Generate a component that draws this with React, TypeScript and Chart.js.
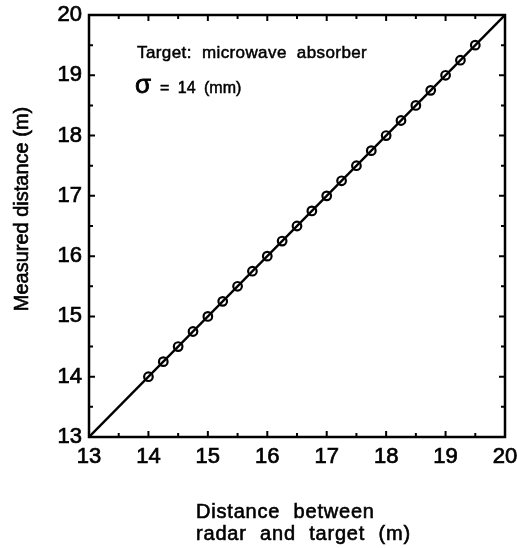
import React, { useEffect, useRef } from "react";
import { Chart, registerables } from "chart.js";

Chart.register(...registerables);

// Reference line y = x across the full range
const lineX = [13, 20];
const lineY = [13, 20];

// Set distance between radar and target (m)
const trueDistance = [
  14, 14.25, 14.5, 14.75, 15, 15.25, 15.5, 15.75, 16, 16.25, 16.5, 16.75,
  17, 17.25, 17.5, 17.75, 18, 18.25, 18.5, 18.75, 19, 19.25, 19.5,
];
// Distance measured by the radar (m)
const measuredDistance = [
  14, 14.25, 14.5, 14.75, 15, 15.25, 15.5, 15.75, 16, 16.25, 16.5, 16.75,
  17, 17.25, 17.5, 17.75, 18, 18.25, 18.5, 18.75, 19, 19.25, 19.5,
];

const majorTicks = [13, 14, 15, 16, 17, 18, 19, 20];
const minorTicks = [13.5, 14.5, 15.5, 16.5, 17.5, 18.5, 19.5];

const FONT = "'Liberation Sans', Arial, Helvetica, sans-serif";

// fill plus a thin stroke so the lettering has the heavier printed weight
function heavyText(ctx: CanvasRenderingContext2D, s: string, x: number, y: number, w = 0.6) {
  ctx.fillText(s, x, y);
  ctx.lineWidth = w;
  ctx.strokeText(s, x, y);
}

const framePlugin = {
  id: "frameAndText",
  afterDraw(chart: any) {
    const ctx: CanvasRenderingContext2D = chart.ctx;
    const { left, right, top, bottom } = chart.chartArea;
    const xs = chart.scales.x;
    const ys = chart.scales.y;
    ctx.save();
    ctx.strokeStyle = "#000";
    ctx.fillStyle = "#000";

    // frame
    ctx.lineWidth = 2.5;
    ctx.strokeRect(left, top, right - left, bottom - top);

    // inward tick marks on all four sides
    ctx.lineWidth = 2;
    const drawTicks = (vals: number[], len: number) => {
      ctx.beginPath();
      for (const v of vals) {
        const px = xs.getPixelForValue(v);
        ctx.moveTo(px, bottom);
        ctx.lineTo(px, bottom - len);
        ctx.moveTo(px, top);
        ctx.lineTo(px, top + len);
        const py = ys.getPixelForValue(v);
        ctx.moveTo(left, py);
        ctx.lineTo(left + len, py);
        ctx.moveTo(right, py);
        ctx.lineTo(right - len, py);
      }
      ctx.stroke();
    };
    drawTicks(majorTicks, 6);
    drawTicks(minorTicks, 4);

    // y-axis title
    ctx.save();
    ctx.translate(22, 209);
    ctx.rotate(-Math.PI / 2);
    ctx.font = `20px ${FONT}`;
    ctx.textAlign = "center";
    ctx.textBaseline = "middle";
    heavyText(ctx, "Measured distance (m)", 0, 0);
    ctx.restore();

    // x-axis title (two lines)
    ctx.font = `20px ${FONT}`;
    ctx.textAlign = "left";
    ctx.textBaseline = "alphabetic";
    (ctx as any).letterSpacing = "0.8px";
    (ctx as any).wordSpacing = "7px";
    heavyText(ctx, "Distance between", 196, 518);
    heavyText(ctx, "radar and target (m)", 196, 540);

    // annotation
    (ctx as any).letterSpacing = "0.4px";
    (ctx as any).wordSpacing = "5px";
    ctx.font = `17px ${FONT}`;
    heavyText(ctx, "Target: microwave absorber", 137, 58, 0.5);
    (ctx as any).letterSpacing = "0px";
    (ctx as any).wordSpacing = "0px";
    ctx.font = `26px ${FONT}`;
    heavyText(ctx, "σ", 135, 93, 0.8);
    ctx.font = `16px ${FONT}`;
    (ctx as any).wordSpacing = "4px";
    heavyText(ctx, "= 14 (mm)", 160, 93, 0.5);
    ctx.restore();
  },
};

export default function App() {
  const ref = useRef<HTMLCanvasElement>(null);

  useEffect(() => {
    document.body.style.margin = "0";
    const canvas = ref.current;
    if (!canvas) return;
    const chart = new Chart(canvas, {
      type: "scatter",
      data: {
        datasets: [
          {
            data: trueDistance.map((x, i) => ({ x, y: measuredDistance[i] })),
            showLine: false,
            pointStyle: "circle",
            pointRadius: 4.3,
            pointBorderWidth: 2.2,
            pointBorderColor: "#000",
            pointBackgroundColor: "rgba(0,0,0,0)",
          },
          {
            data: lineX.map((x, i) => ({ x, y: lineY[i] })),
            showLine: true,
            borderColor: "#000",
            borderWidth: 2.4,
            pointRadius: 0,
          },
        ],
      },
      options: {
        responsive: false,
        devicePixelRatio: 1,
        animation: false,
        layout: { padding: { top: 15, right: 12, left: 0, bottom: 0 } },
        plugins: { legend: { display: false }, tooltip: { enabled: false } },
        scales: {
          x: {
            type: "linear",
            min: 13,
            max: 20,
            grid: { display: false, drawTicks: false },
            border: { display: false },
            ticks: {
              stepSize: 1,
              padding: 7,
              color: "#000",
              textStrokeColor: "#000",
              textStrokeWidth: 0.7,
              font: { size: 22, family: FONT },
            },
            afterFit(scale: any) {
              scale.height = 111;
              scale.paddingLeft = 0;
              scale.paddingRight = 0;
            },
          },
          y: {
            type: "linear",
            min: 13,
            max: 20,
            grid: { display: false, drawTicks: false },
            border: { display: false },
            ticks: {
              stepSize: 1,
              padding: 7,
              color: "#000",
              textStrokeColor: "#000",
              textStrokeWidth: 0.7,
              font: { size: 22, family: FONT },
            },
            afterFit(scale: any) {
              scale.width = 89;
              scale.paddingTop = 0;
              scale.paddingBottom = 0;
            },
          },
        },
      },
      plugins: [framePlugin],
    });
    return () => chart.destroy();
  }, []);

  return (
    <div style={{ width: 517, height: 548, background: "#fff" }}>
      <canvas ref={ref} width={517} height={548} />
    </div>
  );
}
